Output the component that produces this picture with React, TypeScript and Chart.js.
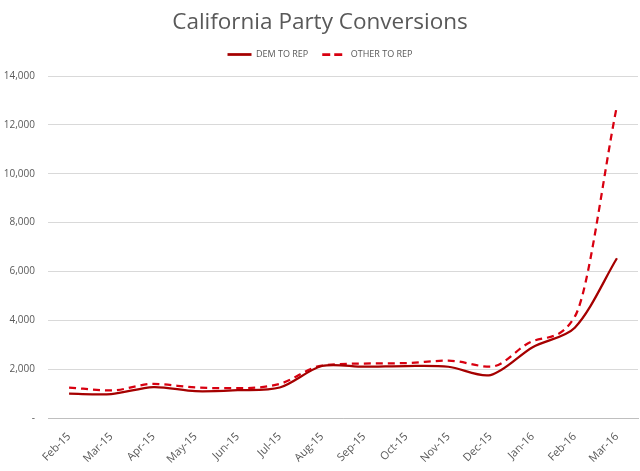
import React, { useEffect, useRef } from "react";
import { Chart, registerables } from "chart.js";

Chart.register(...registerables);

const months = ["Feb-15","Mar-15","Apr-15","May-15","Jun-15","Jul-15","Aug-15","Sep-15","Oct-15","Nov-15","Dec-15","Jan-16","Feb-16","Mar-16"];
const demToRep = [1000, 980, 1270, 1100, 1140, 1250, 2130, 2100, 2130, 2100, 1760, 2900, 3700, 6540];
const otherToRep = [1250, 1130, 1400, 1250, 1220, 1400, 2150, 2230, 2250, 2350, 2100, 3150, 4150, 12780];

const legendGap = {
  id: "legendGap",
  beforeInit(chart: any) {
    const legend = chart.legend;
    if (!legend) return;
    const origFit = legend.fit;
    legend.fit = function () {
      origFit.call(this);
      this.height += 7;
    };
  },
};

export default function App() {
  const ref = useRef<HTMLCanvasElement | null>(null);
  useEffect(() => {
    if (!ref.current) return;
    const font = "'Open Sans', 'Liberation Sans', sans-serif";
    const chart = new Chart(ref.current, {
      type: "line",
      plugins: [legendGap],
      data: {
        labels: months,
        datasets: [
          {
            label: "DEM TO REP",
            data: demToRep,
            borderColor: "#A50000",
            backgroundColor: "#A50000",
            borderWidth: 2.25,
            pointRadius: 0,
            tension: 0.3,
          },
          {
            label: "OTHER TO REP",
            data: otherToRep,
            borderColor: "#D80010",
            backgroundColor: "#D80010",
            borderWidth: 2.25,
            borderDash: [7, 5],
            pointRadius: 0,
            cubicInterpolationMode: "monotone",
          },
        ],
      },
      options: {
        animation: false,
        responsive: true,
        maintainAspectRatio: false,
        layout: { padding: { left: 2, right: 2, top: 9, bottom: 1 } },
        plugins: {
          title: {
            display: true,
            text: "California Party Conversions",
            color: "#595959",
            font: { family: font, size: 22.5, weight: "normal" },
            padding: { top: 0, bottom: 0 },
          },
          legend: {
            display: true,
            position: "top",
            labels: {
              usePointStyle: true,
              pointStyle: "line",
              pointStyleWidth: 24,
              color: "#595959",
              font: { family: font, size: 9 },
              padding: 14,
              generateLabels: (c: any) => {
                const items = Chart.defaults.plugins.legend.labels.generateLabels(c);
                items.forEach((it: any) => {
                  const ds = c.data.datasets[it.datasetIndex];
                  it.lineDash = ds.borderDash ? [8, 4] : [];
                  it.lineWidth = 2.75;
                  it.strokeStyle = ds.borderColor;
                });
                return items;
              },
            },
          },
          tooltip: { enabled: false },
        },
        scales: {
          x: {
            offset: true,
            grid: { display: false },
            border: { color: "#bfbfbf" },
            afterFit: (scale: any) => {
              scale.paddingLeft = 0;
              scale.paddingRight = 0;
            },
            ticks: {
              color: "#595959",
              font: { family: font, size: 11 },
              minRotation: 45,
              maxRotation: 45,
              autoSkip: false,
              padding: 4,
            },
          },
          y: {
            min: 0,
            max: 14000,
            grid: { color: "#d9d9d9", drawTicks: false },
            border: { display: false },
            afterFit: (scale: any) => {
              scale.width = 46;
            },
            ticks: {
              stepSize: 2000,
              color: "#595959",
              padding: 13,
              font: { family: font, size: 10 },
              callback: (v: any) => (Number(v) === 0 ? "-" : Number(v).toLocaleString("en-US")),
            },
          },
        },
      },
    });
    return () => chart.destroy();
  }, []);
  return (
    <div style={{ position: "fixed", left: 0, top: 0, width: 640, height: 471, background: "#fff" }}>
      <canvas ref={ref} />
    </div>
  );
}
